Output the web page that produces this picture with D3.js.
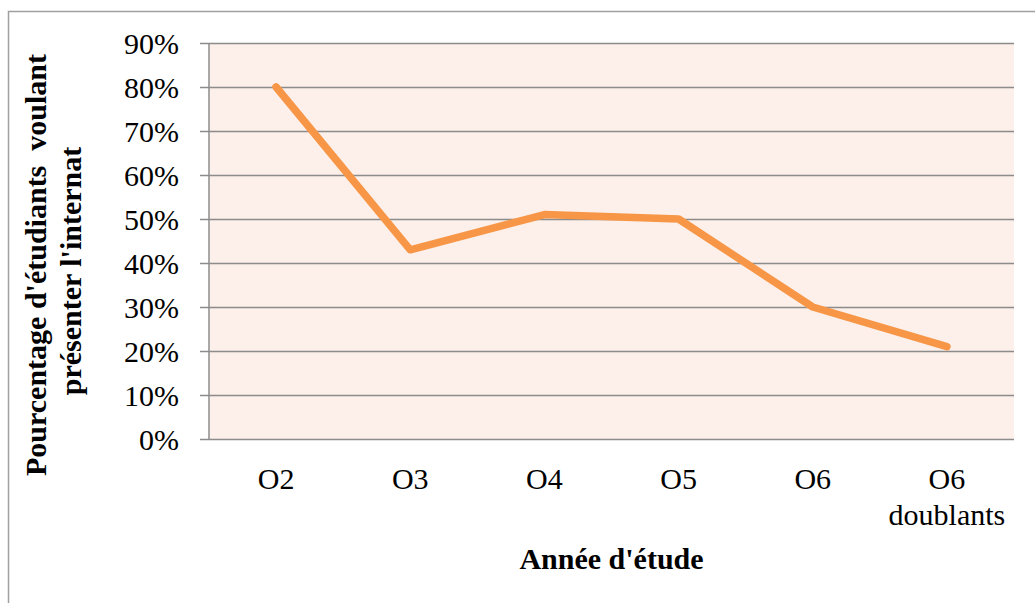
<!DOCTYPE html>
<html>
<head>
<meta charset="utf-8">
<script src="https://cdn.jsdelivr.net/npm/d3@7"></script>
<style>
  html, body { margin: 0; padding: 0; background: #fff; }
  svg text { font-family: "Liberation Serif", "Times New Roman", serif !important; }
</style>
</head>
<body>
<svg width="1035" height="603"></svg>
<script>
// Pourcentage d'étudiants voulant présenter l'internat, par année d'étude
const categories = ["O2", "O3", "O4", "O5", "O6", "O6\ndoublants"];
const values     = [0.80, 0.43, 0.51, 0.50, 0.30, 0.21];
const yTicks     = [0, 0.1, 0.2, 0.3, 0.4, 0.5, 0.6, 0.7, 0.8, 0.9];

const C = {
  line: "#f79646",
  plot: "#fdefe9",
  grid: "#8c8c8c",
  frame: "#a0a0a0",
  ink: "#000"
};

const svg = d3.select("svg");
const M = { left: 209, right: 1014, top: 43, bottom: 439 };

// outer chart frame (runs off right / bottom edges like the source)
svg.append("rect").attr("x", 8.5).attr("y", 11.5).attr("width", 1040).attr("height", 610)
  .attr("fill", "#fff").attr("stroke", C.frame).attr("stroke-width", 1.5);

const x = d3.scaleBand().domain(categories).range([M.left, M.right]);
const y = d3.scaleLinear().domain([0, 0.9]).range([M.bottom, M.top]);

// plot area
svg.append("rect").attr("x", M.left).attr("y", M.top)
  .attr("width", M.right - M.left).attr("height", M.bottom - M.top).attr("fill", C.plot);

// gridlines + y axis
const yAxis = d3.axisLeft(y).tickValues(yTicks).tickFormat(d3.format(".0%"))
  .tickSize(-(M.right - M.left)).tickPadding(30);
const gy = svg.append("g").attr("transform", `translate(${M.left},0)`).call(yAxis);
gy.select(".domain").remove();
gy.selectAll(".tick line").attr("stroke", C.grid).attr("stroke-width", 1.5).attr("x1", -9);
gy.selectAll(".tick text").attr("font-size", 30).attr("fill", C.ink).attr("dy", "0.34em");

// vertical axis line
svg.append("line").attr("x1", M.left).attr("x2", M.left).attr("y1", M.top).attr("y2", M.bottom)
  .attr("stroke", C.grid).attr("stroke-width", 1.5);

// x category labels
const gx = svg.append("g");
categories.forEach(c => {
  const cx = x(c) + x.bandwidth() / 2;
  const t = gx.append("text").attr("x", cx).attr("y", 489)
    .attr("text-anchor", "middle").attr("font-size", 30).attr("fill", C.ink);
  c.split("\n").forEach((s, i) => {
    t.append("tspan").attr("x", cx).attr("dy", i ? 36 : 0).text(s);
  });
});

// line
const line = d3.line().x((d, i) => x(categories[i]) + x.bandwidth() / 2).y(d => y(d));
svg.append("path").datum(values).attr("d", line)
  .attr("fill", "none").attr("stroke", C.line).attr("stroke-width", 7.5)
  .attr("stroke-linecap", "round").attr("stroke-linejoin", "round");

// axis titles
svg.append("text").attr("x", (M.left + M.right) / 2).attr("y", 569)
  .attr("text-anchor", "middle").attr("font-size", 30).attr("font-weight", "bold")
  .text("Année d'étude");

const yt = svg.append("text").attr("transform", "translate(46,265) rotate(-90)")
  .attr("text-anchor", "middle").attr("font-size", 30).attr("font-weight", "bold")
  .attr("xml:space", "preserve");
yt.append("tspan").attr("x", 0).attr("y", 0).text("Pourcentage d'étudiants  voulant");
yt.append("tspan").attr("x", -6).attr("y", 35).text("présenter l'internat");
</script>
</body>
</html>
